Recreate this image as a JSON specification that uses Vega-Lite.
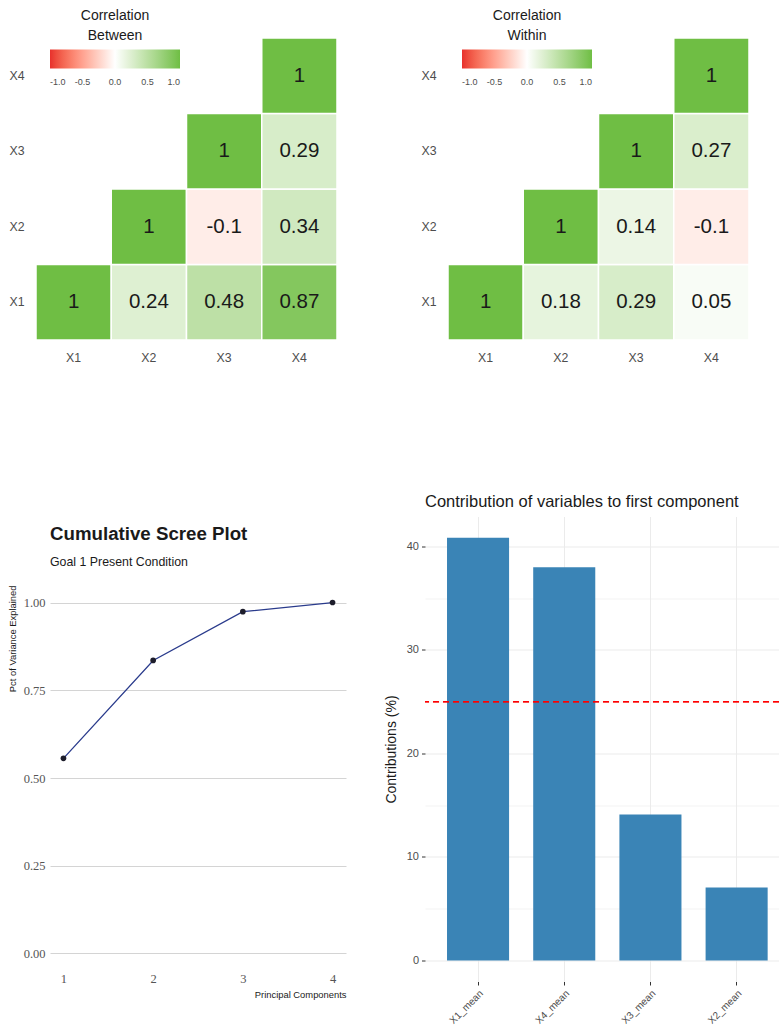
{
  "$schema": "https://vega.github.io/schema/vega-lite/v6.json",
  "background": "white",
  "autosize": {"type": "pad"},
  "padding": {"left": 7, "top": 9, "right": 0, "bottom": 0},
  "config": {
    "view": {"stroke": null},
    "font": "Liberation Sans",
    "axis": {"labelFont": "Liberation Sans", "titleFont": "Liberation Sans"},
    "legend": {"padding": 0},
    "style": {"guide-title": {"lineBreak": "\n"}}
  },
  "resolve": {"scale": {"color": "independent"}, "legend": {"color": "independent"}},
  "datasets": {
    "between": [
      {"row": "X1", "col": "X1", "r": 1},
      {"row": "X1", "col": "X2", "r": 0.24},
      {"row": "X1", "col": "X3", "r": 0.48},
      {"row": "X1", "col": "X4", "r": 0.87},
      {"row": "X2", "col": "X2", "r": 1},
      {"row": "X2", "col": "X3", "r": -0.1},
      {"row": "X2", "col": "X4", "r": 0.34},
      {"row": "X3", "col": "X3", "r": 1},
      {"row": "X3", "col": "X4", "r": 0.29},
      {"row": "X4", "col": "X4", "r": 1}
    ],
    "within": [
      {"row": "X1", "col": "X1", "r": 1},
      {"row": "X1", "col": "X2", "r": 0.18},
      {"row": "X1", "col": "X3", "r": 0.29},
      {"row": "X1", "col": "X4", "r": 0.05},
      {"row": "X2", "col": "X2", "r": 1},
      {"row": "X2", "col": "X3", "r": 0.14},
      {"row": "X2", "col": "X4", "r": -0.1},
      {"row": "X3", "col": "X3", "r": 1},
      {"row": "X3", "col": "X4", "r": 0.27},
      {"row": "X4", "col": "X4", "r": 1}
    ],
    "scree": [
      {"pc": 1, "cum": 0.556},
      {"pc": 2, "cum": 0.835},
      {"pc": 3, "cum": 0.974},
      {"pc": 4, "cum": 1.0}
    ],
    "contrib": [
      {"variable": "X1_mean", "contrib": 40.85},
      {"variable": "X4_mean", "contrib": 38.0},
      {"variable": "X3_mean", "contrib": 14.1},
      {"variable": "X2_mean", "contrib": 7.05}
    ]
  },
  "hconcat": [
    {
      "vconcat": [
        {
          "width": 301,
          "height": 302,
          "data": {"name": "between"},
          "encoding": {
            "x": {"field": "col", "type": "nominal", "title": null,
              "scale": {"domain": ["X1", "X2", "X3", "X4"], "paddingInner": 0, "paddingOuter": 0},
              "axis": {"orient": "bottom", "domain": false, "ticks": false, "labelAngle": 0, "labelFontSize": 12.3, "labelColor": "#4d4d4d", "labelPadding": 11}},
            "y": {"field": "row", "type": "nominal", "title": null,
              "scale": {"domain": ["X4", "X3", "X2", "X1"], "paddingInner": 0, "paddingOuter": 0},
              "axis": {"domain": false, "ticks": false, "labelFontSize": 12.3, "labelColor": "#4d4d4d", "labelPadding": 12}}
          },
          "layer": [
            {
              "mark": {"type": "rect", "stroke": "white", "strokeWidth": 1.5},
              "encoding": {
                "color": {"field": "r", "type": "quantitative",
                  "scale": {"domain": [-1, 0, 1], "range": ["#E8312C", "#FFFFFF", "#6FBE44"], "interpolate": "lab"},
                  "legend": {
                    "orient": "none", "legendX": 14, "legendY": -29, "direction": "horizontal",
                    "title": "Correlation\nBetween",
                    "titleFont": "Liberation Sans", "titleFontSize": 14, "titleFontWeight": "normal", "titleColor": "#1a1a1a",
                    "titleAnchor": "middle", "titleAlign": "center", "titleLineHeight": 19.5, "titlePadding": 7,
                    "gradientLength": 130, "gradientThickness": 19, "gradientStrokeWidth": 0,
                    "values": [-1, -0.5, 0, 0.5, 1],
                    "labelExpr": "replace(format(datum.value, '.1f'), '\u2212', '-')",
                    "labelFont": "Liberation Sans", "labelFontSize": 9, "labelColor": "#4d4d4d", "labelOffset": 9, "labelAlign": "center"
                  }}
              }
            },
            {
              "mark": {"type": "text", "fontSize": 20.5, "color": "#1a1a1a", "font": "Liberation Sans"},
              "encoding": {"text": {"field": "r", "type": "nominal"}}
            }
          ]
        },
        {
          "hconcat": [
            {"width": 1, "height": 1, "data": {"values": []}, "mark": "point"},
            {
              "width": 296,
              "height": 386,
              "data": {"name": "scree"},
              "title": {
                "text": "Cumulative Scree Plot", "subtitle": "Goal 1 Present Condition",
                "anchor": "start", "frame": "group",
                "font": "Liberation Sans", "fontSize": 18.7, "fontWeight": "bold", "color": "#1a1a1a",
                "subtitleFont": "Liberation Sans", "subtitleFontSize": 12.35, "subtitleColor": "#1a1a1a",
                "subtitlePadding": 12, "offset": 17
              },
              "encoding": {
                "x": {"field": "pc", "type": "quantitative",
                  "scale": {"domain": [0.85, 4.15], "nice": false, "zero": false},
                  "axis": {"values": [1, 2, 3, 4], "format": "d", "grid": false, "domain": false, "ticks": false,
                    "labelFont": "Liberation Serif", "labelFontSize": 12.5, "labelColor": "#555555", "labelPadding": 1,
                    "title": "Principal Components", "titleAnchor": "end", "titleFontSize": 9.4,
                    "titleFontWeight": "normal", "titleColor": "#1a1a1a", "titlePadding": 6}},
                "y": {"field": "cum", "type": "quantitative",
                  "scale": {"domain": [-0.05, 1.05], "nice": false, "zero": false},
                  "axis": {"values": [0, 0.25, 0.5, 0.75, 1], "format": ".2f", "grid": true, "gridColor": "#d4d4d4", "domain": false, "ticks": false,
                    "labelFont": "Liberation Serif", "labelFontSize": 12.5, "labelColor": "#555555", "labelPadding": 5,
                    "title": "Pct of Variance Explained", "titleAnchor": "end", "titleFontSize": 9.4,
                    "titleFontWeight": "normal", "titleColor": "#1a1a1a", "titlePadding": 6}}
              },
              "layer": [
                {"mark": {"type": "line", "color": "#2a3b8c", "strokeWidth": 1.3}},
                {"mark": {"type": "point", "filled": true, "color": "#1d1d2b", "size": 32, "opacity": 1}}
              ]
            }
          ],
          "spacing": 13,
          "bounds": "flush"
        }
      ],
      "spacing": 160
    },
    {
      "vconcat": [
        {
          "hconcat": [
            {"width": 1, "height": 1, "data": {"values": []}, "mark": "point"},
            {
              "width": 301,
              "height": 302,
              "data": {"name": "within"},
              "encoding": {
                "x": {"field": "col", "type": "nominal", "title": null,
                  "scale": {"domain": ["X1", "X2", "X3", "X4"], "paddingInner": 0, "paddingOuter": 0},
                  "axis": {"orient": "bottom", "domain": false, "ticks": false, "labelAngle": 0, "labelFontSize": 12.3, "labelColor": "#4d4d4d", "labelPadding": 11}},
                "y": {"field": "row", "type": "nominal", "title": null,
                  "scale": {"domain": ["X4", "X3", "X2", "X1"], "paddingInner": 0, "paddingOuter": 0},
                  "axis": {"domain": false, "ticks": false, "labelFontSize": 12.3, "labelColor": "#4d4d4d", "labelPadding": 12}}
              },
              "layer": [
                {
                  "mark": {"type": "rect", "stroke": "white", "strokeWidth": 1.5},
                  "encoding": {
                    "color": {"field": "r", "type": "quantitative",
                      "scale": {"domain": [-1, 0, 1], "range": ["#E8312C", "#FFFFFF", "#6FBE44"], "interpolate": "lab"},
                      "legend": {
                        "orient": "none", "legendX": 37, "legendY": -29, "direction": "horizontal",
                        "title": "Correlation\nWithin",
                        "titleFont": "Liberation Sans", "titleFontSize": 14, "titleFontWeight": "normal", "titleColor": "#1a1a1a",
                        "titleAnchor": "middle", "titleAlign": "center", "titleLineHeight": 19.5, "titlePadding": 7,
                        "gradientLength": 130, "gradientThickness": 19, "gradientStrokeWidth": 0,
                        "values": [-1, -0.5, 0, 0.5, 1],
                        "labelExpr": "replace(format(datum.value, '.1f'), '\u2212', '-')",
                        "labelFont": "Liberation Sans", "labelFontSize": 9, "labelColor": "#4d4d4d", "labelOffset": 9, "labelAlign": "center"
                      }}
                  }
                },
                {
                  "mark": {"type": "text", "fontSize": 20.5, "color": "#1a1a1a", "font": "Liberation Sans"},
                  "encoding": {"text": {"field": "r", "type": "nominal"}}
                }
              ]
            }
          ],
          "spacing": 22,
          "bounds": "flush"
        },
        {
          "width": 354,
          "height": 465,
          "data": {"name": "contrib"},
          "title": {
            "text": "Contribution of variables to first component",
            "anchor": "start", "frame": "group",
            "font": "Liberation Sans", "fontSize": 16.5, "fontWeight": "normal", "color": "#1a1a1a", "offset": 6.5
          },
          "layer": [
            {
              "mark": {"type": "bar", "color": "#3A84B6"},
              "encoding": {
                "x": {"field": "variable", "type": "nominal", "title": null, "sort": null,
                  "scale": {"domain": ["X1_mean", "X4_mean", "X3_mean", "X2_mean"], "paddingInner": 0.28, "paddingOuter": 0.1935, "align": 0.66},
                  "axis": {"grid": true, "gridColor": "#ebebeb", "bandPosition": 0.5, "domain": false, "ticks": true,
                    "tickColor": "#333333", "tickSize": 3.5, "labelAngle": -45, "labelAlign": "right", "labelBaseline": "top",
                    "labelFontSize": 10, "labelColor": "#4d4d4d", "labelPadding": 3}},
                "y": {"field": "contrib", "type": "quantitative", "title": "Contributions (%)",
                  "scale": {"domain": [-2.04, 42.9], "nice": false, "zero": false},
                  "axis": {"values": [0, 5, 10, 15, 20, 25, 30, 35, 40],
                    "labelExpr": "datum.value % 10 === 0 ? datum.label : ''",
                    "grid": true, "gridColor": "#ebebeb",
                    "gridWidth": {"condition": {"test": "datum.value % 10 !== 0", "value": 0.6}, "value": 1},
                    "domain": false, "ticks": true, "tickColor": "#333333", "tickSize": 3.5,
                    "tickOpacity": {"condition": {"test": "datum.value % 10 !== 0", "value": 0}, "value": 1},
                    "labelFontSize": 11, "labelColor": "#4d4d4d", "labelPadding": 3,
                    "titleFontSize": 14, "titleFontWeight": "normal", "titleColor": "#1a1a1a", "titlePadding": 8}},
                "y2": {"datum": 0}
              }
            },
            {
              "mark": {"type": "rule", "color": "#FF0000", "strokeDash": [6, 4], "strokeWidth": 1.1},
              "encoding": {"y": {"datum": 25}}
            }
          ]
        }
      ],
      "spacing": 129.5
    }
  ],
  "spacing": 38
}
